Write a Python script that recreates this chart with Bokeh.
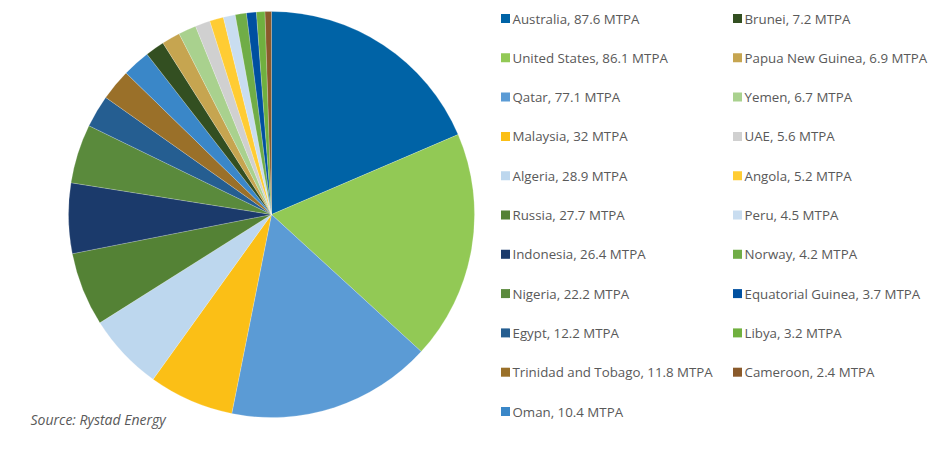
import numpy as np
from bokeh.plotting import figure
from bokeh.models import Range1d, ColumnDataSource
from bokeh.core.properties import value
from bokeh.embed import file_html
from bokeh.resources import INLINE

countries = ["Australia", "United States", "Qatar", "Malaysia", "Algeria", "Russia",
             "Indonesia", "Nigeria", "Egypt", "Trinidad and Tobago", "Oman", "Brunei",
             "Papua New Guinea", "Yemen", "UAE", "Angola", "Peru", "Norway",
             "Equatorial Guinea", "Libya", "Cameroon"]
mtpa = [87.6, 86.1, 77.1, 32, 28.9, 27.7, 26.4, 22.2, 12.2, 11.8, 10.4, 7.2,
        6.9, 6.7, 5.6, 5.2, 4.5, 4.2, 3.7, 3.2, 2.4]
value_labels = ["87.6", "86.1", "77.1", "32", "28.9", "27.7", "26.4", "22.2", "12.2",
                "11.8", "10.4", "7.2", "6.9", "6.7", "5.6", "5.2", "4.5", "4.2",
                "3.7", "3.2", "2.4"]
colors = ["#0063A6", "#92C955", "#5B9BD5", "#FBBF16", "#BDD7EE", "#548235",
          "#1B3A6B", "#5A8A3C", "#255E91", "#9A7029", "#3A87C8", "#334F21",
          "#C6A550", "#A9D18E", "#D0D0D0", "#FFCC33", "#C9DDF0", "#70AD47",
          "#0050A0", "#70B03F", "#8A5A2B"]

W, H = 937, 457
p = figure(width=W, height=H, output_backend="svg", toolbar_location=None,
           x_range=Range1d(0, W), y_range=Range1d(0, H), min_border=0)
p.axis.visible = False
p.grid.visible = False
p.outline_line_color = None
p.background_fill_color = "white"

vals = np.array(mtpa, dtype=float)
frac = vals / vals.sum()
cum_end = np.cumsum(frac)
cum_start = cum_end - frac
start = np.pi / 2 - cum_end * 2 * np.pi
end = np.pi / 2 - cum_start * 2 * np.pi

cx, cy, r = 271, H - 214, 203
src = ColumnDataSource(dict(start=start, end=end, color=colors))
p.wedge(x=cx, y=cy, radius=r, start_angle="start", end_angle="end",
        fill_color="color", line_color="white", line_width=0.2, source=src)

# legend
n_left = 11
row_h = 39.3
xs_sq, xs_tx, ys = [], [], []
for i in range(len(countries)):
    col = 0 if i < n_left else 1
    row = i if i < n_left else i - n_left
    xs_sq.append(505 if col == 0 else 737)
    xs_tx.append(512 if col == 0 else 744)
    ys.append(H - (18 + row * row_h))
labels = [f"{c}, {v} MTPA" for c, v in zip(countries, value_labels)]
lsrc = ColumnDataSource(dict(xs=xs_sq, xt=xs_tx, y=ys, color=colors, label=labels))
p.rect(x="xs", y="y", width=9, height=9, fill_color="color", line_color=None, source=lsrc)
p.text(x="xt", y="y", text="label", source=lsrc, text_font=value("Open Sans"),
       text_font_size="13.3px", text_color="#595959", text_baseline="middle")

p.text(x=[30], y=[H - 419], text=["Source: Rystad Energy"], text_font=value("Open Sans"),
       text_font_size="14px", text_font_style="italic", text_color="#595959",
       text_baseline="middle")

open("out.html", "w").write(file_html(p, INLINE))
